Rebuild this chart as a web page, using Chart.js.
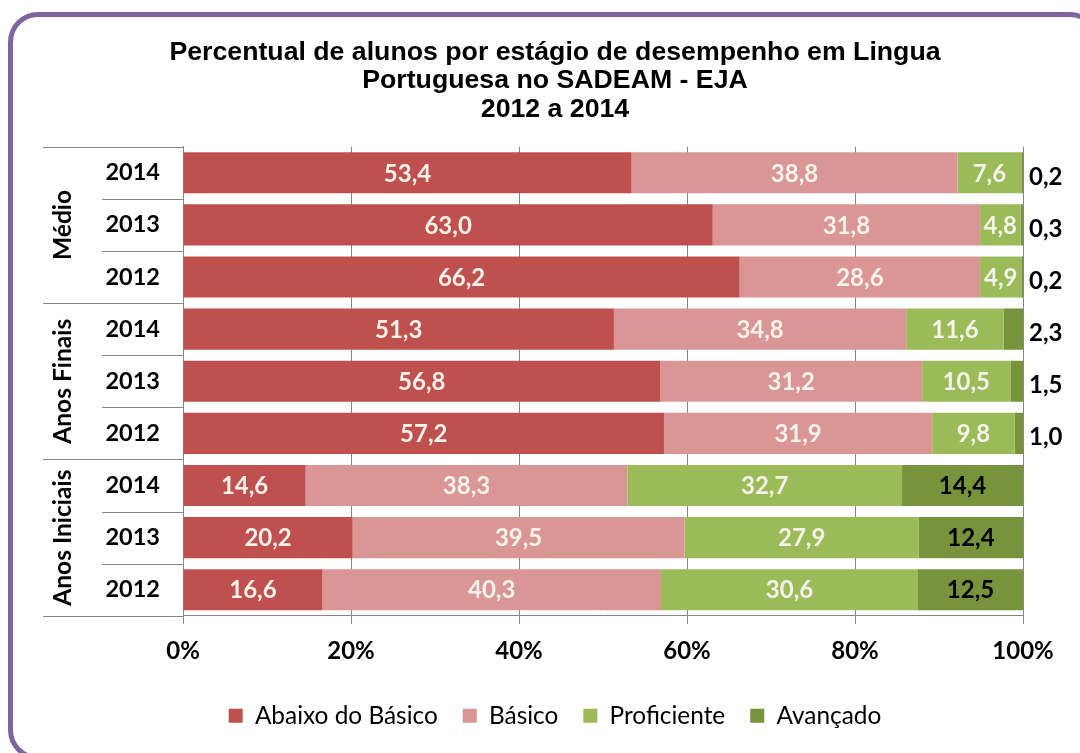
<!DOCTYPE html>
<html>
<head>
<meta charset="utf-8">
<script src="https://cdn.jsdelivr.net/npm/chart.js@4.4.0/dist/chart.umd.min.js"></script>
<style>
  html, body { margin: 0; padding: 0; background: #fff; overflow: hidden; }
  #wrap { position: relative; width: 1080px; height: 753px; overflow: hidden; }
  #frame { position: absolute; left: 8px; top: 12px; width: 1082px; height: 738px;
           border: 5px solid #8064A2; border-radius: 30px; pointer-events: none; }
  canvas { position: absolute; left: 0; top: 0; }
</style>
</head>
<body>
<div id="wrap">
  <canvas id="c" width="1080" height="753"></canvas>
  <div id="frame"></div>
</div>
<script>
// ---- data ----
const groups = ['Médio', 'Anos Finais', 'Anos Iniciais'];
const groupSize = [3, 3, 3];
const years = ['2014', '2013', '2012', '2014', '2013', '2012', '2014', '2013', '2012'];
const seriesNames = ['Abaixo do Básico', 'Básico', 'Proficiente', 'Avançado'];
const abaixo      = [53.4, 63.0, 66.2, 51.3, 56.8, 57.2, 14.6, 20.2, 16.6];
const basico      = [38.8, 31.8, 28.6, 34.8, 31.2, 31.9, 38.3, 39.5, 40.3];
const proficiente = [7.6, 4.8, 4.9, 11.6, 10.5, 9.8, 32.7, 27.9, 30.6];
const avancado    = [0.2, 0.3, 0.2, 2.3, 1.5, 1.0, 14.4, 12.4, 12.5];
const xTicks = [0, 20, 40, 60, 80, 100];
const titleLines = ['Percentual de alunos por estágio de desempenho em Lingua', 'Portuguesa no SADEAM - EJA', '2012 a 2014'];

const colors = ['#C0504D', '#D99694', '#9BBB59', '#77933C'];
const raw = [abaixo, basico, proficiente, avancado];
const totals = years.map((_, i) => raw.reduce((s, a) => s + a[i], 0));
// 100% stacked: share of each row total
const datasets = raw.map((arr, d) => ({
  label: seriesNames[d],
  data: arr.map((v, i) => v / totals[i] * 100),
  rawValues: arr,
  backgroundColor: colors[d],
  borderWidth: 0,
  barPercentage: 0.79,
  categoryPercentage: 1.0
}));

const LABEL_FONT = 'bold 24px Lato';
const fmt = v => v.toFixed(1).replace('.', ',');

const labelPlugin = {
  id: 'barLabels',
  afterDatasetsDraw(chart) {
    const ctx = chart.ctx;
    ctx.save();
    ctx.font = LABEL_FONT;
    ctx.textBaseline = 'middle';
    chart.data.datasets.forEach((ds, d) => {
      const meta = chart.getDatasetMeta(d);
      meta.data.forEach((el, i) => {
        const txt = fmt(ds.rawValues[i]);
        const w = ctx.measureText(txt).width;
        const left = Math.min(el.x, el.base), right = Math.max(el.x, el.base);
        const segW = right - left;
        if (d < 3) {
          ctx.fillStyle = '#F4F2EA';
          ctx.textAlign = 'center';
          ctx.fillText(txt, (left + right) / 2, el.y + 1);
        } else {
          ctx.fillStyle = '#000';
          if (segW > w + 8) {
            ctx.textAlign = 'center';
            ctx.fillText(txt, (left + right) / 2, el.y + 1);
          } else {
            ctx.textAlign = 'left';
            ctx.fillText(txt, right + 6, el.y + 4);
          }
        }
      });
    });
    ctx.restore();
  }
};

const groupPlugin = {
  id: 'groupAxis',
  afterDraw(chart) {
    const ctx = chart.ctx;
    const ys = chart.scales.y;
    const axisX = chart.chartArea.left;
    const step = ys.getPixelForValue(1) - ys.getPixelForValue(0);
    const bound = k => ys.getPixelForValue(0) - step / 2 + k * step;
    ctx.save();
    ctx.strokeStyle = '#868686';
    ctx.lineWidth = 1;
    const groupBounds = [0];
    groupSize.reduce((s, n) => { groupBounds.push(s + n); return s + n; }, 0);
    for (let k = 0; k <= years.length; k++) {
      const y = Math.round(bound(k)) + 0.5;
      const x0 = groupBounds.includes(k) ? 43 : 102;
      ctx.beginPath();
      ctx.moveTo(x0, y);
      ctx.lineTo(axisX, y);
      ctx.stroke();
    }
    ctx.fillStyle = '#000';
    ctx.font = 'bold 24.5px Lato';
    ctx.textAlign = 'center';
    ctx.textBaseline = 'middle';
    groups.forEach((g, gi) => {
      const yc = (bound(groupBounds[gi]) + bound(groupBounds[gi + 1])) / 2;
      ctx.save();
      ctx.translate(63, yc);
      ctx.rotate(-Math.PI / 2);
      ctx.fillText(g, 0, 0);
      ctx.restore();
    });
    ctx.restore();
  }
};

new Chart(document.getElementById('c'), {
  type: 'bar',
  data: { labels: years, datasets },
  options: {
    indexAxis: 'y',
    responsive: false,
    animation: false,
    layout: { padding: { left: 87, right: 57, top: 0, bottom: 15 } },
    scales: {
      x: {
        stacked: true,
        min: 0, max: 100,
        afterBuildTicks: s => { s.ticks = xTicks.map(v => ({ value: v })); },
        ticks: { callback: v => v + '%', color: '#000', font: { family: 'Lato', weight: 'bold', size: 24 }, padding: 13 },
        grid: { color: '#868686', lineWidth: 1, tickLength: 8, drawTicks: true },
        border: { color: '#868686', width: 1 }
      },
      y: {
        stacked: true,
        afterFit: s => { s.width = 96; },
        ticks: { color: '#000', font: { family: 'Lato', weight: 'bold', size: 23.5 }, padding: 23 },
        grid: { display: false, drawTicks: false },
        border: { display: true, color: '#868686', width: 1 }
      }
    },
    plugins: {
      title: {
        display: true,
        text: titleLines,
        color: '#000',
        font: { family: 'Liberation Sans', weight: 'bold', size: 26.7, lineHeight: 1.07 },
        padding: { top: 38, bottom: 23 }
      },
      legend: {
        position: 'bottom',
        labels: { color: '#000', boxWidth: 14, boxHeight: 14, padding: 25, font: { family: 'Lato', size: 24.4 } }
      },
      tooltip: { enabled: false }
    }
  },
  plugins: [labelPlugin, groupPlugin]
});
</script>
</body>
</html>
